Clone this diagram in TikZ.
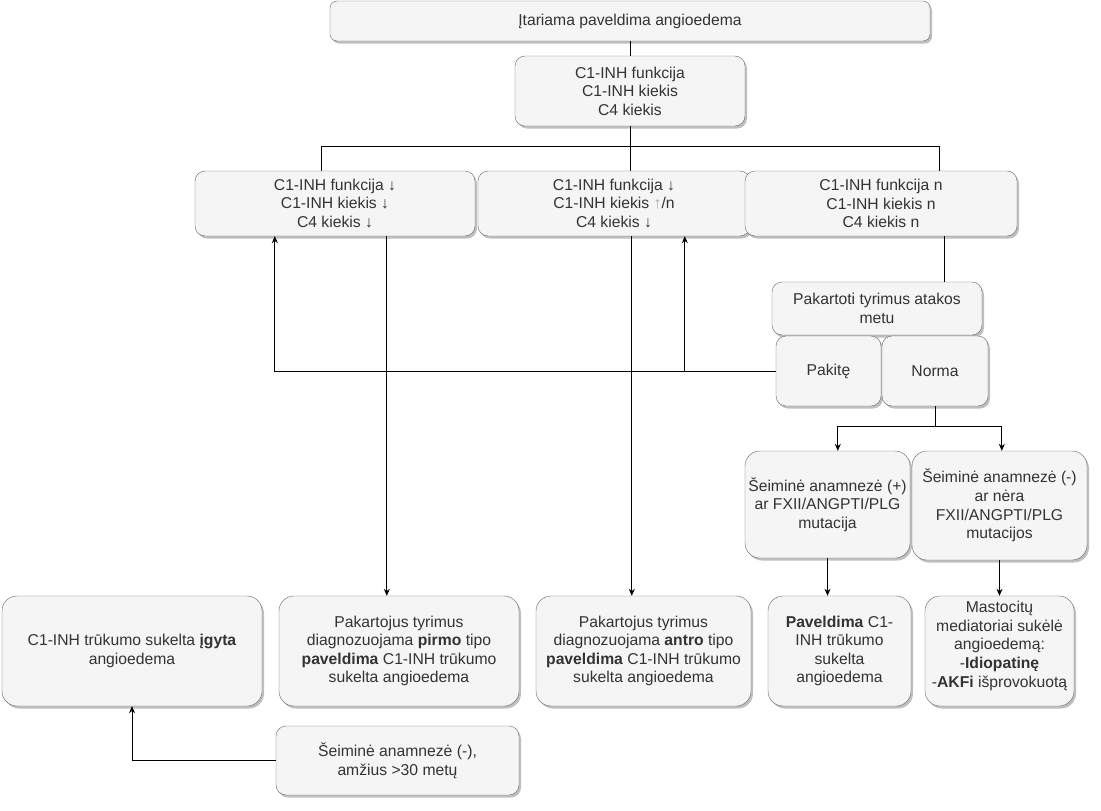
\documentclass[tikz,border=0pt]{standalone}
\usepackage{fontspec}
\setmainfont{Liberation Sans}
\usetikzlibrary{calc,shadows,arrows.meta}
\definecolor{boxfill}{HTML}{F5F5F5}
\definecolor{boxdraw}{HTML}{666666}
\definecolor{txt}{HTML}{333333}
\tikzset{
  box/.style={draw=boxdraw, fill=boxfill, rounded corners=10pt, align=center, text=txt,
    inner sep=0.5pt, font=\fontsize{15.7}{18.6}\selectfont,
    drop shadow={shadow xshift=2pt, shadow yshift=-2.5pt, fill=black, opacity=0.25}},
  bigbox/.style={box, rounded corners=15pt},
  conn/.style={draw=black, line width=0.9pt},
  arr/.style={conn, -{Stealth[length=7pt,width=6pt]}}
}
\begin{document}
\begin{tikzpicture}[x=1pt,y=-1pt]
\useasboundingbox (0,0) rectangle (1101,811);
% nodes
\node[box, rounded corners=7pt, minimum width=600, minimum height=40] (top) at (630,21) {Įtariama paveldima angioedema};
\node[box, minimum width=230, minimum height=70] (c1) at (630,91) {C1-INH funkcija\\C1-INH kiekis\\C4 kiekis};
\node[box, minimum width=280, minimum height=65] (L1) at (335,203.5) {C1-INH funkcija ↓\\C1-INH kiekis ↓\\C4 kiekis ↓};
\node[box, minimum width=272, minimum height=65] (L2) at (614,203.5) {C1-INH funkcija ↓\\C1-INH kiekis {\color{gray!70}↑}/n\\C4 kiekis ↓};
\node[box, minimum width=272, minimum height=65] (L3) at (881,203.5) {C1-INH funkcija n\\C1-INH kiekis n\\C4 kiekis n};
\node[box, minimum width=210, minimum height=53] (rep) at (877,308.5) {Pakartoti tyrimus atakos\\metu};
\node[box, minimum width=105, minimum height=70] (pak) at (828.5,371) {Pakitę};
\node[box, minimum width=106, minimum height=70] (norma) at (935,371) {Norma};
\node[bigbox, minimum width=165, minimum height=107] (fp) at (827.5,504.5) {Šeiminė anamnezė (+)\\ar FXII/ANGPTI/PLG\\mutacija};
\node[bigbox, minimum width=175, minimum height=109] (fm) at (999.5,505.5) {Šeiminė anamnezė (-)\\ar nėra\\FXII/ANGPTI/PLG\\mutacijos};
\node[bigbox, minimum width=143, minimum height=110] (pav) at (839.5,651) {\textbf{Paveldima} C1-\\INH trūkumo\\sukelta\\angioedema};
\node[bigbox, minimum width=149, minimum height=110] (mast) at (999.5,651) {Mastocitų\\mediatoriai sukėlė\\angioedemą:\\-\textbf{Idiopatinę}\\-\textbf{AKFi} išprovokuotą\\[-5pt]\mbox{}};
\node[bigbox, minimum width=260, minimum height=110] (igyta) at (132,651) {C1-INH trūkumo sukelta \textbf{įgyta}\\angioedema};
\node[bigbox, minimum width=240, minimum height=110] (pirmo) at (399,651) {Pakartojus tyrimus\\diagnozuojama \textbf{pirmo} tipo\\\textbf{paveldima} C1-INH trūkumo\\sukelta angioedema};
\node[bigbox, minimum width=215, minimum height=110] (antro) at (643.5,651) {Pakartojus tyrimus\\diagnozuojama \textbf{antro} tipo\\\textbf{paveldima} C1-INH trūkumo\\sukelta angioedema};
\node[box, minimum width=243, minimum height=69] (seim) at (397.5,760.5) {Šeiminė anamnezė (-),\\amžius >30 metų};
% connectors
\draw[conn] (top.south) -- (c1.north);
\draw[conn] (c1.south) -- ++(0,20) coordinate (jn);
\draw[conn] ($(L1.north west)+(127,0)$) |- (jn) -| ($(L3.north west)+(195,0)$);
\draw[conn] (jn) -- (L2.north -| jn);
\draw[conn] ($(L3.south west)+(200,0)$) coordinate (a3) -- (rep.north -| a3);
\draw[conn] (norma.south) -- ++(0,20) coordinate (jn2);
\draw[arr] (jn2) -| ($(fp.north west)+(93,0)$);
\draw[arr] (jn2) -| ($(fm.north west)+(90,0)$);
\draw[arr] (pak.west) -| ($(L1.south west)+(80,0)$);
\coordinate (k2) at ($(L2.south west)+(207,0)$);
\draw[arr] (pak.west -| k2) -- (k2);
\draw[arr] ($(L1.south west)+(192,0)$) coordinate (d1) -- (pirmo.north -| d1);
\draw[arr] ($(L2.south west)+(154,0)$) coordinate (d2) -- (antro.north -| d2);
\draw[arr] (fp.south) -- (pav.north -| fp.south);
\draw[arr] (fm.south) -- (mast.north -| fm.south);
\draw[arr] (seim.west) -| (igyta.south);
\end{tikzpicture}
\end{document}
